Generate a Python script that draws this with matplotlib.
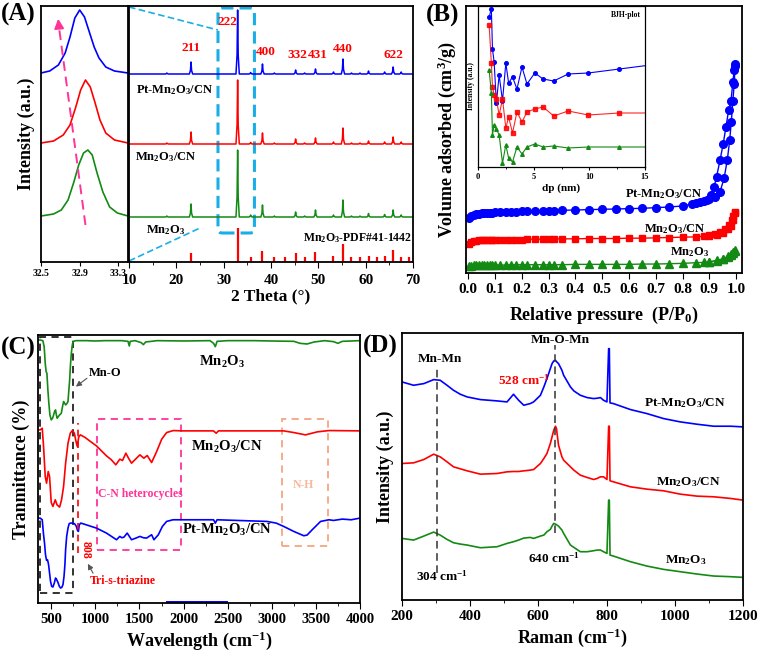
import matplotlib
matplotlib.use("Agg")
import matplotlib.pyplot as plt
import numpy as np
from matplotlib.patches import Rectangle, FancyBboxPatch
from matplotlib.ticker import MultipleLocator

plt.rcParams['font.family'] = ['Liberation Serif', 'DejaVu Serif']
plt.rcParams['font.weight'] = 'bold'
plt.rcParams['mathtext.fontset'] = 'custom'
plt.rcParams['mathtext.rm'] = 'Liberation Serif:bold'
plt.rcParams['mathtext.it'] = 'Liberation Serif:bold'
plt.rcParams['mathtext.bf'] = 'Liberation Serif:bold'
plt.rcParams['mathtext.default'] = 'rm'
plt.rcParams['axes.linewidth'] = 1.3

BLUE = '#0000ff'
RED = '#ff0000'
GREEN = '#138a13'
CYAN = '#1aaee6'
PINK = '#ff3399'
SALMON = '#f4a582'

# ---------------- Panel A data ----------------
zoom_2theta = [32.5, 32.59, 32.68, 32.75, 32.80, 32.85, 32.90, 32.95, 33.00, 33.05, 33.10, 33.17, 33.26, 33.40]
zoom_blue = [189, 191, 197, 209, 225, 244, 252, 245, 230, 215, 204, 195, 191, 189]
zoom_2theta_r = [32.5, 32.63, 32.73, 32.80, 32.86, 32.91, 32.96, 33.01, 33.06, 33.11, 33.17, 33.26, 33.40]
zoom_red = [119, 121, 127, 137, 155, 172, 182, 175, 159, 142, 129, 122, 119]
zoom_2theta_g = [32.5, 32.63, 32.71, 32.78, 32.84, 32.89, 32.94, 32.985, 33.03, 33.08, 33.14, 33.21, 33.29, 33.40]
zoom_green = [46, 48, 52, 62, 80, 97, 109, 112, 107, 89, 70, 55, 49, 46]

xrd_peaks = [18.0, 23.1, 32.95, 35.7, 38.2, 40.7, 45.2, 47.1, 49.4, 53.2, 55.2, 57.0, 58.8, 60.6, 64.0, 65.8, 67.5]
xrd_blue_h = [1, 12, 64, 1.5, 10, 1, 4, 1, 5, 2, 15, 1, 1, 3, 2, 7, 2]
xrd_red_h = [1, 12, 64, 1.5, 11, 1, 5, 1, 6, 2, 16, 1, 1, 3, 2, 7, 2]
xrd_green_h = [1, 13, 67, 2, 12, 1, 5, 1, 7, 2, 17, 1, 1, 3.5, 2.5, 7, 2]
xrd_base = {'blue': 188, 'red': 118, 'green': 45}

pdf_pos = [23.1, 32.95, 35.7, 38.2, 40.7, 43.0, 45.2, 47.1, 49.4, 53.2, 55.2, 57.0, 58.8, 60.6, 62.3, 64.0, 65.8, 67.5, 69.2]
pdf_h = [9, 34, 5, 11, 5, 5, 9, 5, 10, 6, 18, 5, 5, 6, 5, 6, 12, 5, 5]

hkl_labels = ['211', '222', '400', '332', '431', '440', '622']
hkl_x = [23.1, 30.9, 39.0, 45.6, 49.8, 55.2, 65.8]
hkl_y = [214, 240, 210, 207, 207, 213, 207]

# ---------------- Panel B data ----------------
p_blue_ads = [0.002, 0.01, 0.02, 0.03, 0.04, 0.05, 0.06, 0.07, 0.08, 0.09, 0.10, 0.12, 0.14, 0.16, 0.18, 0.20, 0.22,
              0.25, 0.28, 0.30, 0.32, 0.35, 0.40, 0.45, 0.50, 0.55, 0.60, 0.65, 0.70, 0.75, 0.80, 0.85, 0.88,
              0.90, 0.92, 0.94, 0.955, 0.967, 0.976, 0.982, 0.988, 0.993, 0.996]
v_blue_ads = [165, 172, 176, 178, 179, 180, 181, 181, 182, 182, 183, 183, 184, 185, 185, 186, 186,
              187, 187, 188, 188, 189, 190, 191, 192, 193, 194, 195, 197, 199, 202, 210, 216,
              222, 228, 245, 285, 340, 400, 455, 520, 570, 625]
p_blue_des = [0.996, 0.993, 0.988, 0.981, 0.972, 0.962, 0.952, 0.94, 0.927, 0.918, 0.908, 0.89, 0.865, 0.835]
v_blue_des = [630, 612, 575, 520, 490, 440, 390, 340, 290, 260, 235, 220, 214, 208]

p_red_ads = [0.002, 0.01, 0.02, 0.03, 0.04, 0.05, 0.06, 0.07, 0.08, 0.09, 0.10, 0.12, 0.14, 0.16, 0.18, 0.20, 0.22,
             0.25, 0.28, 0.30, 0.32, 0.35, 0.40, 0.45, 0.50, 0.55, 0.60, 0.65, 0.70, 0.75, 0.80, 0.85, 0.88,
             0.90, 0.93, 0.95, 0.97, 0.98, 0.99, 0.995]
v_red_ads = [88, 93, 96, 97, 98, 98, 99, 99, 99, 100, 100, 100, 101, 101, 101, 101, 102,
             102, 102, 102, 103, 103, 103, 104, 104, 104, 105, 105, 106, 107, 108, 109, 111,
             112, 116, 122, 132, 142, 160, 180]
p_red_des = [0.995, 0.99, 0.985, 0.975, 0.96, 0.94, 0.92, 0.90]
v_red_des = [184, 172, 160, 146, 133, 123, 117, 114]

p_green_ads = [0.002, 0.01, 0.02, 0.03, 0.04, 0.05, 0.06, 0.07, 0.08, 0.09, 0.10, 0.12, 0.14, 0.16, 0.18, 0.20, 0.22,
               0.25, 0.28, 0.30, 0.32, 0.35, 0.40, 0.45, 0.50, 0.55, 0.60, 0.65, 0.70, 0.75, 0.80, 0.85, 0.88,
               0.90, 0.93, 0.95, 0.97, 0.98, 0.99, 0.995]
v_green_ads = [20, 22, 23, 23, 23, 24, 24, 24, 24, 24, 24, 24, 24, 25, 25, 25, 25,
               25, 25, 25, 25, 25, 26, 26, 26, 26, 26, 27, 27, 28, 29, 31, 32,
               33, 37, 41, 48, 54, 60, 66]
p_green_des = [0.995, 0.99, 0.98, 0.97, 0.95, 0.93, 0.90]
v_green_des = [68, 63, 56, 50, 43, 38, 34]

bjh_dp = [1.0, 1.2, 1.3, 1.45, 1.65, 1.9, 2.2, 2.5, 2.75, 3.1, 3.5, 3.95, 4.4, 5.1, 5.85, 6.8, 8.1, 9.9, 12.7, 15.5]
bjh_blue = [150, 158, 118, 105, 64, 92, 66, 104, 84, 90, 78, 100, 83, 94, 88, 86, 93, 94, 98, 102]
bjh_red = [142, 104, 80, 72, 68, 52, 68, 39, 50, 34, 55, 45, 55, 58, 60, 51, 56, 52, 54, 54]
bjh_green = [97, 74, 32, 42, 38, 32, 4, 22, 9, 5, 20, 13, 20, 23, 20, 21, 19, 20, 20, 20]

# ---------------- Panel C data ----------------
ftir_g_x = [350, 375, 405, 420, 432, 442, 451, 462, 473, 485, 500, 515, 527, 538, 549, 558, 568, 580, 595, 614,
            628, 640, 652, 663, 675, 690, 700, 709, 718, 728, 737, 747, 777, 900, 1000, 1100, 1300, 1370, 1385,
            1395, 1450, 1520, 1545, 1570, 1700, 2000, 2300, 2340, 2360, 2380, 2500, 2800, 3000, 3250, 3320,
            3400, 3480, 3600, 3700, 3750, 3800, 4000]
ftir_g_y = [790, 790, 788, 770, 720, 695, 690, 640, 600, 565, 550, 555, 565, 575, 580, 565, 555, 560, 565, 570,
            590, 605, 600, 595, 598, 605, 640, 670, 715, 750, 772, 785, 788, 788, 787, 788, 788, 786, 772,
            786, 788, 782, 776, 784, 788, 787, 788, 780, 770, 786, 788, 788, 787, 786, 780,
            778, 784, 788, 785, 780, 786, 788]
ftir_r_x = [350, 375, 398, 413, 432, 447, 466, 481, 500, 519, 546, 565, 595, 617, 640, 663, 690, 716, 739, 762,
            781, 796, 811, 830, 879, 1012, 1126, 1182, 1232, 1277, 1308, 1346, 1376, 1410, 1505, 1550, 1588,
            1638, 1695, 1752, 1808, 1884, 1979, 2339, 2370, 2396, 3135, 3249, 3382, 3515, 3648, 4000]
ftir_r_y = [520, 520, 525, 470, 380, 360, 395, 380, 302, 290, 310, 295, 288, 310, 350, 420, 480, 510, 518, 510,
            485, 470, 498, 505, 498, 472, 442, 430, 415, 432, 428, 450, 435, 420, 445, 435, 443,
            422, 455, 492, 512, 518, 517, 517, 510, 517, 517, 512, 505, 514, 518, 517]
ftir_b_x = [350, 375, 398, 413, 424, 435, 447, 458, 470, 481, 492, 505, 519, 535, 549, 562, 576, 592, 606, 620,
            633, 645, 655, 663, 675, 690, 703, 716, 740, 765, 785, 798, 808, 818, 835, 860, 1012, 1126, 1240,
            1277, 1300, 1325, 1361, 1410, 1460, 1505, 1545, 1581, 1620, 1638, 1664, 1714, 1760, 1808, 1880,
            1960, 2340, 2360, 2380, 2946, 3050, 3135, 3249, 3363, 3400, 3458, 3553, 3648, 3700, 3800, 3900, 4000]
ftir_b_y = [255, 255, 250, 205, 180, 145, 128, 130, 115, 90, 65, 50, 48, 60, 75, 70, 62, 50, 45, 47,
            55, 80, 115, 160, 200, 225, 238, 240, 240, 238, 230, 218, 215, 235, 240, 238, 225, 210, 190,
            200, 196, 198, 210, 190, 195, 200, 196, 195, 202, 205, 190, 205, 230, 245, 250,
            250, 250, 240, 250, 245, 240, 230, 215, 202, 204, 220, 245, 250, 248, 252, 250, 255]

# ---------------- Panel D data ----------------
raman_x = [200, 234, 264, 293, 312, 332, 351, 371, 391, 430, 479, 508, 527, 542, 557, 576, 586, 606, 616, 625,
           635, 640, 645, 650, 653, 659, 669, 674, 694, 704, 723, 743, 762, 772, 782, 791, 801, 806, 808, 810,
           820, 870, 918, 967, 1016, 1065, 1114, 1164, 1200]
raman_blue = [655, 645, 650, 662, 660, 645, 630, 618, 610, 602, 598, 595, 618, 600, 585, 590, 595, 615, 640, 665,
              695, 710, 718, 720, 716, 710, 690, 675, 640, 628, 615, 608, 605, 606, 608, 600, 595, 755, 755, 592,
              590, 572, 560, 545, 535, 528, 522, 522, 520]
raman_red = [410, 412, 422, 438, 430, 415, 400, 394, 388, 378, 380, 385, 386, 386, 388, 390, 392, 410, 425, 440,
             470, 490, 510, 522, 515, 465, 430, 420, 400, 390, 375, 368, 362, 365, 370, 370, 362, 522, 522, 358,
             355, 340, 333, 328, 318, 312, 310, 305, 300]
raman_green = [185, 180, 192, 204, 195, 182, 172, 168, 165, 157, 160, 170, 175, 180, 186, 188, 185, 192, 195, 205,
               212, 222, 230, 228, 226, 222, 210, 200, 165, 158, 145, 145, 148, 150, 150, 145, 140, 300, 300, 135,
               132, 115, 102, 92, 85, 78, 72, 70, 68]

# ---------------- Figure ----------------
W, H = 758, 651
fig = plt.figure(figsize=(W / 100, H / 100), dpi=100)


def rect(x0, y0, x1, y1):
    return [x0 / W, 1 - y1 / H, (x1 - x0) / W, (y1 - y0) / H]


TICK_FS = 11
A_TOP, A_BOT = 6, 262
A_H = A_BOT - A_TOP

# ---- Panel A left (zoom) ----
axZ = fig.add_axes(rect(41, A_TOP, 128, A_BOT))
axZ.plot(zoom_2theta, zoom_blue, color=BLUE, lw=1.2)
axZ.plot(zoom_2theta_r, zoom_red, color=RED, lw=1.2)
axZ.plot(zoom_2theta_g, zoom_green, color=GREEN, lw=1.2)
axZ.set_xlim(32.5, 33.4)
axZ.set_ylim(0, A_H)
axZ.set_yticks([])
axZ.set_xticks([32.5, 32.9, 33.3])
axZ.set_xticklabels(['32.5', '32.9', '33.3'])
axZ.tick_params(axis='x', labelsize=7, length=3, direction='out', pad=2)
axZ.set_ylabel('Intensity (a.u.)', fontsize=13, fontweight='bold', labelpad=4)
axZ.plot([32.96, 32.69], [37, 232], color=PINK, lw=1.4, ls=(0, (5, 3)))
axZ.annotate('', xy=(32.675, 246), xytext=(32.69, 231),
             arrowprops=dict(arrowstyle='-|>', color=PINK, lw=1.4, mutation_scale=14))

# ---- Panel A main ----
axA = fig.add_axes(rect(129, A_TOP, 413, A_BOT))
prof_dx = [-0.35, -0.12, 0.0, 0.12, 0.35]
prof_f = [0.0, 0.3, 1.0, 0.3, 0.0]
for name, hts, col in [('blue', xrd_blue_h, BLUE), ('red', xrd_red_h, RED), ('green', xrd_green_h, GREEN)]:
    xs, ys = [10], [xrd_base[name]]
    for p, h in zip(xrd_peaks, hts):
        for dx, f in zip(prof_dx, prof_f):
            xs.append(p + dx)
            ys.append(xrd_base[name] + f * h)
    xs.append(70)
    ys.append(xrd_base[name])
    axA.plot(xs, ys, color=col, lw=1.1)
axA.vlines(pdf_pos, 0, pdf_h, color=RED, lw=1.6)
for lab, x, y in zip(hkl_labels, hkl_x, hkl_y):
    axA.text(x, y, lab, color=RED, fontsize=9.5, ha='center', va='center', fontweight='bold')
axA.text(11.5, 172, 'Pt-Mn$_2$O$_3$/CN', fontsize=9, ha='left', va='center')
axA.text(11.2, 105, 'Mn$_2$O$_3$/CN', fontsize=9, ha='left', va='center')
axA.text(13.6, 32, 'Mn$_2$O$_3$', fontsize=9, ha='left', va='center')
axA.text(69.8, 24, 'Mn$_2$O$_3$-PDF#41-1442', fontsize=8.5, ha='right', va='center')
box = FancyBboxPatch((28.8, 29), 36.5 - 28.8, 254 - 29,
                     boxstyle='round,pad=0,rounding_size=0.9', mutation_aspect=4.5,
                     fill=False, edgecolor=CYAN, lw=2.2, ls=(0, (4, 2)))
axA.add_patch(box)
axA.plot([10, 28.8], [A_H - 1, 232], color=CYAN, lw=1.2, ls=(0, (4, 2)), clip_on=False)
axA.plot([10, 25.0], [1, 34], color=CYAN, lw=1.2, ls=(0, (4, 2)), clip_on=False)
axA.set_xlim(10, 70)
axA.set_ylim(0, A_H)
axA.set_yticks([])
axA.xaxis.set_major_locator(MultipleLocator(10))
axA.xaxis.set_minor_locator(MultipleLocator(5))
axA.tick_params(axis='x', which='major', labelsize=TICK_FS, length=4, direction='out', pad=4.5)
axA.tick_params(axis='x', which='minor', length=2.5, direction='out')
axA.set_xlabel('2 Theta (°)', fontsize=12.5, fontweight='bold', labelpad=1)

# ---- Panel B ----
axB = fig.add_axes(rect(466, 6, 742, 273))
axB.plot(p_blue_ads, v_blue_ads, color=BLUE, marker='o', ms=5.5, lw=1.0)
axB.plot(p_blue_des, v_blue_des, color=BLUE, marker='o', ms=5.5, lw=1.0)
axB.plot(p_red_ads, v_red_ads, color=RED, marker='s', ms=5, lw=1.0)
axB.plot(p_red_des, v_red_des, color=RED, marker='s', ms=5, lw=1.0)
axB.plot(p_green_ads, v_green_ads, color=GREEN, marker='^', ms=5.5, lw=1.0)
axB.plot(p_green_des, v_green_des, color=GREEN, marker='^', ms=5.5, lw=1.0)
axB.text(0.73, 238, 'Pt-Mn$_2$O$_3$/CN', fontsize=9, ha='center', va='center')
axB.text(0.77, 132, 'Mn$_2$O$_3$/CN', fontsize=9, ha='center', va='center')
axB.text(0.825, 62, 'Mn$_2$O$_3$', fontsize=9, ha='center', va='center')
axB.set_xlim(-0.008, 1.022)
axB.set_ylim(0, 805)
axB.set_yticks([])
axB.set_xticks(np.arange(0, 1.01, 0.1))
axB.set_xticklabels(['%.1f' % v for v in np.arange(0, 1.01, 0.1)])
axB.tick_params(axis='x', labelsize=TICK_FS, length=4, direction='out')
axB.set_xlabel('Relative pressure  (P/P$_0$)', fontsize=13, fontweight='bold', labelpad=6)
axB.set_ylabel('Volume adsorbed (cm$^3$/g)', fontsize=13, fontweight='bold', labelpad=6)

axI = fig.add_axes(rect(478, 6, 645, 167))
axI.plot(bjh_dp, bjh_blue, color=BLUE, marker='o', ms=2.6, lw=0.8)
axI.plot(bjh_dp, bjh_red, color=RED, marker='s', ms=2.4, lw=0.8, alpha=0.85)
axI.plot(bjh_dp, bjh_green, color=GREEN, marker='^', ms=2.6, lw=0.8)
axI.set_xlim(0, 15)
axI.set_ylim(0, 161)
axI.set_yticks([])
axI.xaxis.set_major_locator(MultipleLocator(5))
axI.xaxis.set_minor_locator(MultipleLocator(2.5))
axI.tick_params(axis='x', which='major', labelsize=6, length=2.5, direction='out', pad=1.5)
axI.tick_params(axis='x', which='minor', length=1.5, direction='out')
for s in axI.spines.values():
    s.set_linewidth(0.9)
axI.set_xlabel('dp (nm)', fontsize=8, fontweight='bold', labelpad=2)
axI.set_ylabel('Intensity (a.u.)', fontsize=5.5, fontweight='bold', labelpad=2)
axI.text(13.3, 152, 'BJH-plot', fontsize=5.5, ha='center', va='center', fontweight='bold')

# ---- Panel C ----
axC = fig.add_axes(rect(38, 335, 360, 603))
axC.plot(ftir_g_x, ftir_g_y, color=GREEN, lw=1.2)
axC.plot(ftir_r_x, ftir_r_y, color=RED, lw=1.2)
axC.plot(ftir_b_x, ftir_b_y, color=BLUE, lw=1.2)
axC.plot([1810, 2490], [3, 3], color=BLUE, lw=1.4)
axC.add_patch(Rectangle((375, 30), 747 - 375, 770, fill=False, edgecolor='#222222', lw=1.3, ls=(0, (4, 3))))
axC.add_patch(Rectangle((1023, 158), 1971 - 1023, 553 - 158, fill=False, edgecolor=PINK, lw=1.3, ls=(0, (4, 3))))
axC.add_patch(Rectangle((3117, 170), 3636 - 3117, 553 - 170, fill=False, edgecolor=SALMON, lw=1.3, ls=(0, (4, 3))))
axC.plot([808, 808], [150, 540], color=RED, lw=1.2, ls=(0, (4, 3)))
axC.text(822, 160, '808', color=RED, fontsize=8.5, rotation=270, ha='left', va='center')
axC.text(1107, 690, 'Mn-O', fontsize=9, ha='center', va='center')
axC.annotate('', xy=(754, 645), xytext=(930, 680),
             arrowprops=dict(arrowstyle='-|>', color='#555555', lw=0.8, mutation_scale=8))
axC.text(1315, 65, 'Tri-s-triazine', color=RED, fontsize=8.5, ha='center', va='center')
axC.annotate('', xy=(900, 125), xytext=(990, 82),
             arrowprops=dict(arrowstyle='-|>', color='#555555', lw=0.8, mutation_scale=8))
axC.text(1505, 328, 'C-N heterocycles', color=PINK, fontsize=8.5, ha='center', va='center')
axC.text(3363, 353, 'N-H', color='#f7b89c', fontsize=8.5, ha='center', va='center')
axC.text(2434, 725, 'Mn$_2$O$_3$', fontsize=10.5, ha='center', va='center')
axC.text(2491, 470, 'Mn$_2$O$_3$/CN', fontsize=10.5, ha='center', va='center')
axC.text(2491, 218, 'Pt-Mn$_2$O$_3$/CN', fontsize=10.5, ha='center', va='center')
axC.set_xlim(350, 4000)
axC.set_ylim(0, 805)
axC.set_yticks([])
axC.xaxis.set_major_locator(MultipleLocator(500))
axC.xaxis.set_minor_locator(MultipleLocator(250))
axC.tick_params(axis='x', which='major', labelsize=10.5, length=4, direction='out')
axC.tick_params(axis='x', which='minor', length=2.5, direction='out')
axC.set_xlabel('Wavelength (cm$^{-1}$)', fontsize=13, fontweight='bold', labelpad=2)
axC.set_ylabel('Tranmittance (%)', fontsize=13, fontweight='bold', labelpad=6)

# ---- Panel D ----
axD = fig.add_axes(rect(402, 333, 743, 600))
axD.plot(raman_x, raman_blue, color=BLUE, lw=1.2)
axD.plot(raman_x, raman_red, color=RED, lw=1.2)
axD.plot(raman_x, raman_green, color=GREEN, lw=1.2)
axD.plot([302, 302], [80, 695], color='#333333', lw=1.1, ls=(0, (5, 3)))
axD.plot([650, 650], [200, 765], color='#333333', lw=1.1, ls=(0, (5, 3)))
axD.text(312, 725, 'Mn-Mn', fontsize=9.5, ha='center', va='center')
axD.text(664, 782, 'Mn-O-Mn', fontsize=9.5, ha='center', va='center')
axD.text(557, 660, '528 cm$^{-1}$', color=RED, fontsize=9.5, ha='center', va='center')
axD.text(1031, 590, 'Pt-Mn$_2$O$_3$/CN', fontsize=9.5, ha='center', va='center')
axD.text(1041, 355, 'Mn$_2$O$_3$/CN', fontsize=9.5, ha='center', va='center')
axD.text(1031, 120, 'Mn$_2$O$_3$', fontsize=9.5, ha='center', va='center')
axD.text(645, 125, '640 cm$^{-1}$', fontsize=9.5, ha='center', va='center')
axD.text(317, 70, '304 cm$^{-1}$', fontsize=9.5, ha='center', va='center')
axD.set_xlim(200, 1200)
axD.set_ylim(0, 802)
axD.set_yticks([])
axD.xaxis.set_major_locator(MultipleLocator(200))
axD.xaxis.set_minor_locator(MultipleLocator(100))
axD.tick_params(axis='x', which='major', labelsize=TICK_FS, length=4, direction='out')
axD.tick_params(axis='x', which='minor', length=2.5, direction='out')
axD.set_xlabel('Raman (cm$^{-1}$)', fontsize=13, fontweight='bold', labelpad=2)
axD.set_ylabel('Intensity (a.u.)', fontsize=13, fontweight='bold', labelpad=6)

for ax in [axZ, axA, axB, axC, axD, axI]:
    for lab in ax.get_xticklabels():
        lab.set_fontweight('bold')

# panel labels
fig.text(1 / W, 1 - 14 / H, '(A)', fontsize=18, fontweight='bold', ha='left', va='center')
fig.text(426 / W, 1 - 15 / H, '(B)', fontsize=18, fontweight='bold', ha='left', va='center')
fig.text(1 / W, 1 - 348 / H, '(C)', fontsize=18, fontweight='bold', ha='left', va='center')
fig.text(363 / W, 1 - 346 / H, '(D)', fontsize=18, fontweight='bold', ha='left', va='center')

fig.savefig('out.png', dpi=100)
